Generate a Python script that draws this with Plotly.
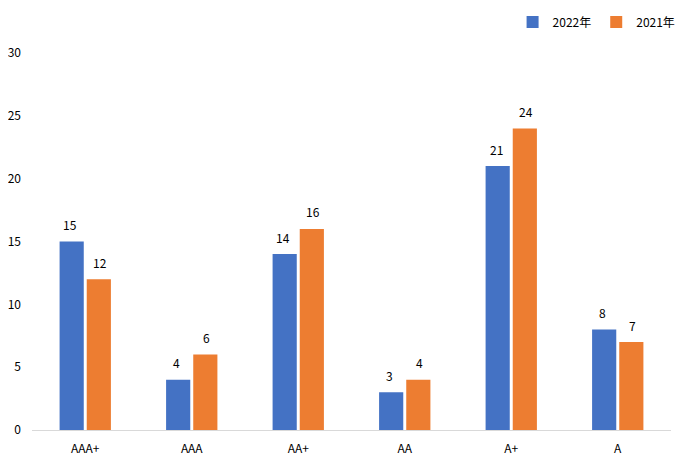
import plotly.graph_objects as go

categories = ["AAA+", "AAA", "AA+", "AA", "A+", "A"]
values_2022 = [15, 4, 14, 3, 21, 8]
values_2021 = [12, 6, 16, 4, 24, 7]
y_ticks = [0, 5, 10, 15, 20, 25, 30]

font_family = "Noto Sans CJK SC, DejaVu Sans, sans-serif"

fig = go.Figure()
fig.add_trace(go.Bar(
    x=categories, y=values_2022, name="2022年",
    marker=dict(color="#4472C4", line=dict(width=0)),
))
fig.add_trace(go.Bar(
    x=categories, y=values_2021, name="2021年",
    marker=dict(color="#ED7D31", line=dict(width=0)),
))

for vals, shift in ((values_2022, -15), (values_2021, 15)):
    for c, v in zip(categories, vals):
        fig.add_annotation(x=c, y=v, text=str(v), showarrow=False,
                           xshift=shift, yshift=17, yanchor="middle",
                           font=dict(size=12, color="#000000"))

fig.update_layout(
    width=692, height=465,
    margin=dict(l=24, r=29, t=45, b=43, autoexpand=False),
    paper_bgcolor="white", plot_bgcolor="white",
    barmode="group", bargap=0.49, bargroupgap=0.11,
    font=dict(family=font_family, size=12, color="#000000"),
    showlegend=True,
    legend=dict(orientation="h", x=1.015, xanchor="right",
                yref="container", y=0.97, yanchor="middle",
                font=dict(size=12), traceorder="normal",
                itemwidth=30, tracegroupgap=0),
)
fig.update_xaxes(showgrid=False, showline=True, linecolor="#D9D9D9", linewidth=1,
                 ticks="", tickfont=dict(size=12), zeroline=False, automargin=False,
                 ticklabelstandoff=8)
fig.update_yaxes(range=[0, 30], tickvals=y_ticks, showgrid=False, showline=False,
                 zeroline=False, ticks="", tickfont=dict(size=12), ticklabelstandoff=10,
                 automargin=False)

fig.write_html("out.html")
